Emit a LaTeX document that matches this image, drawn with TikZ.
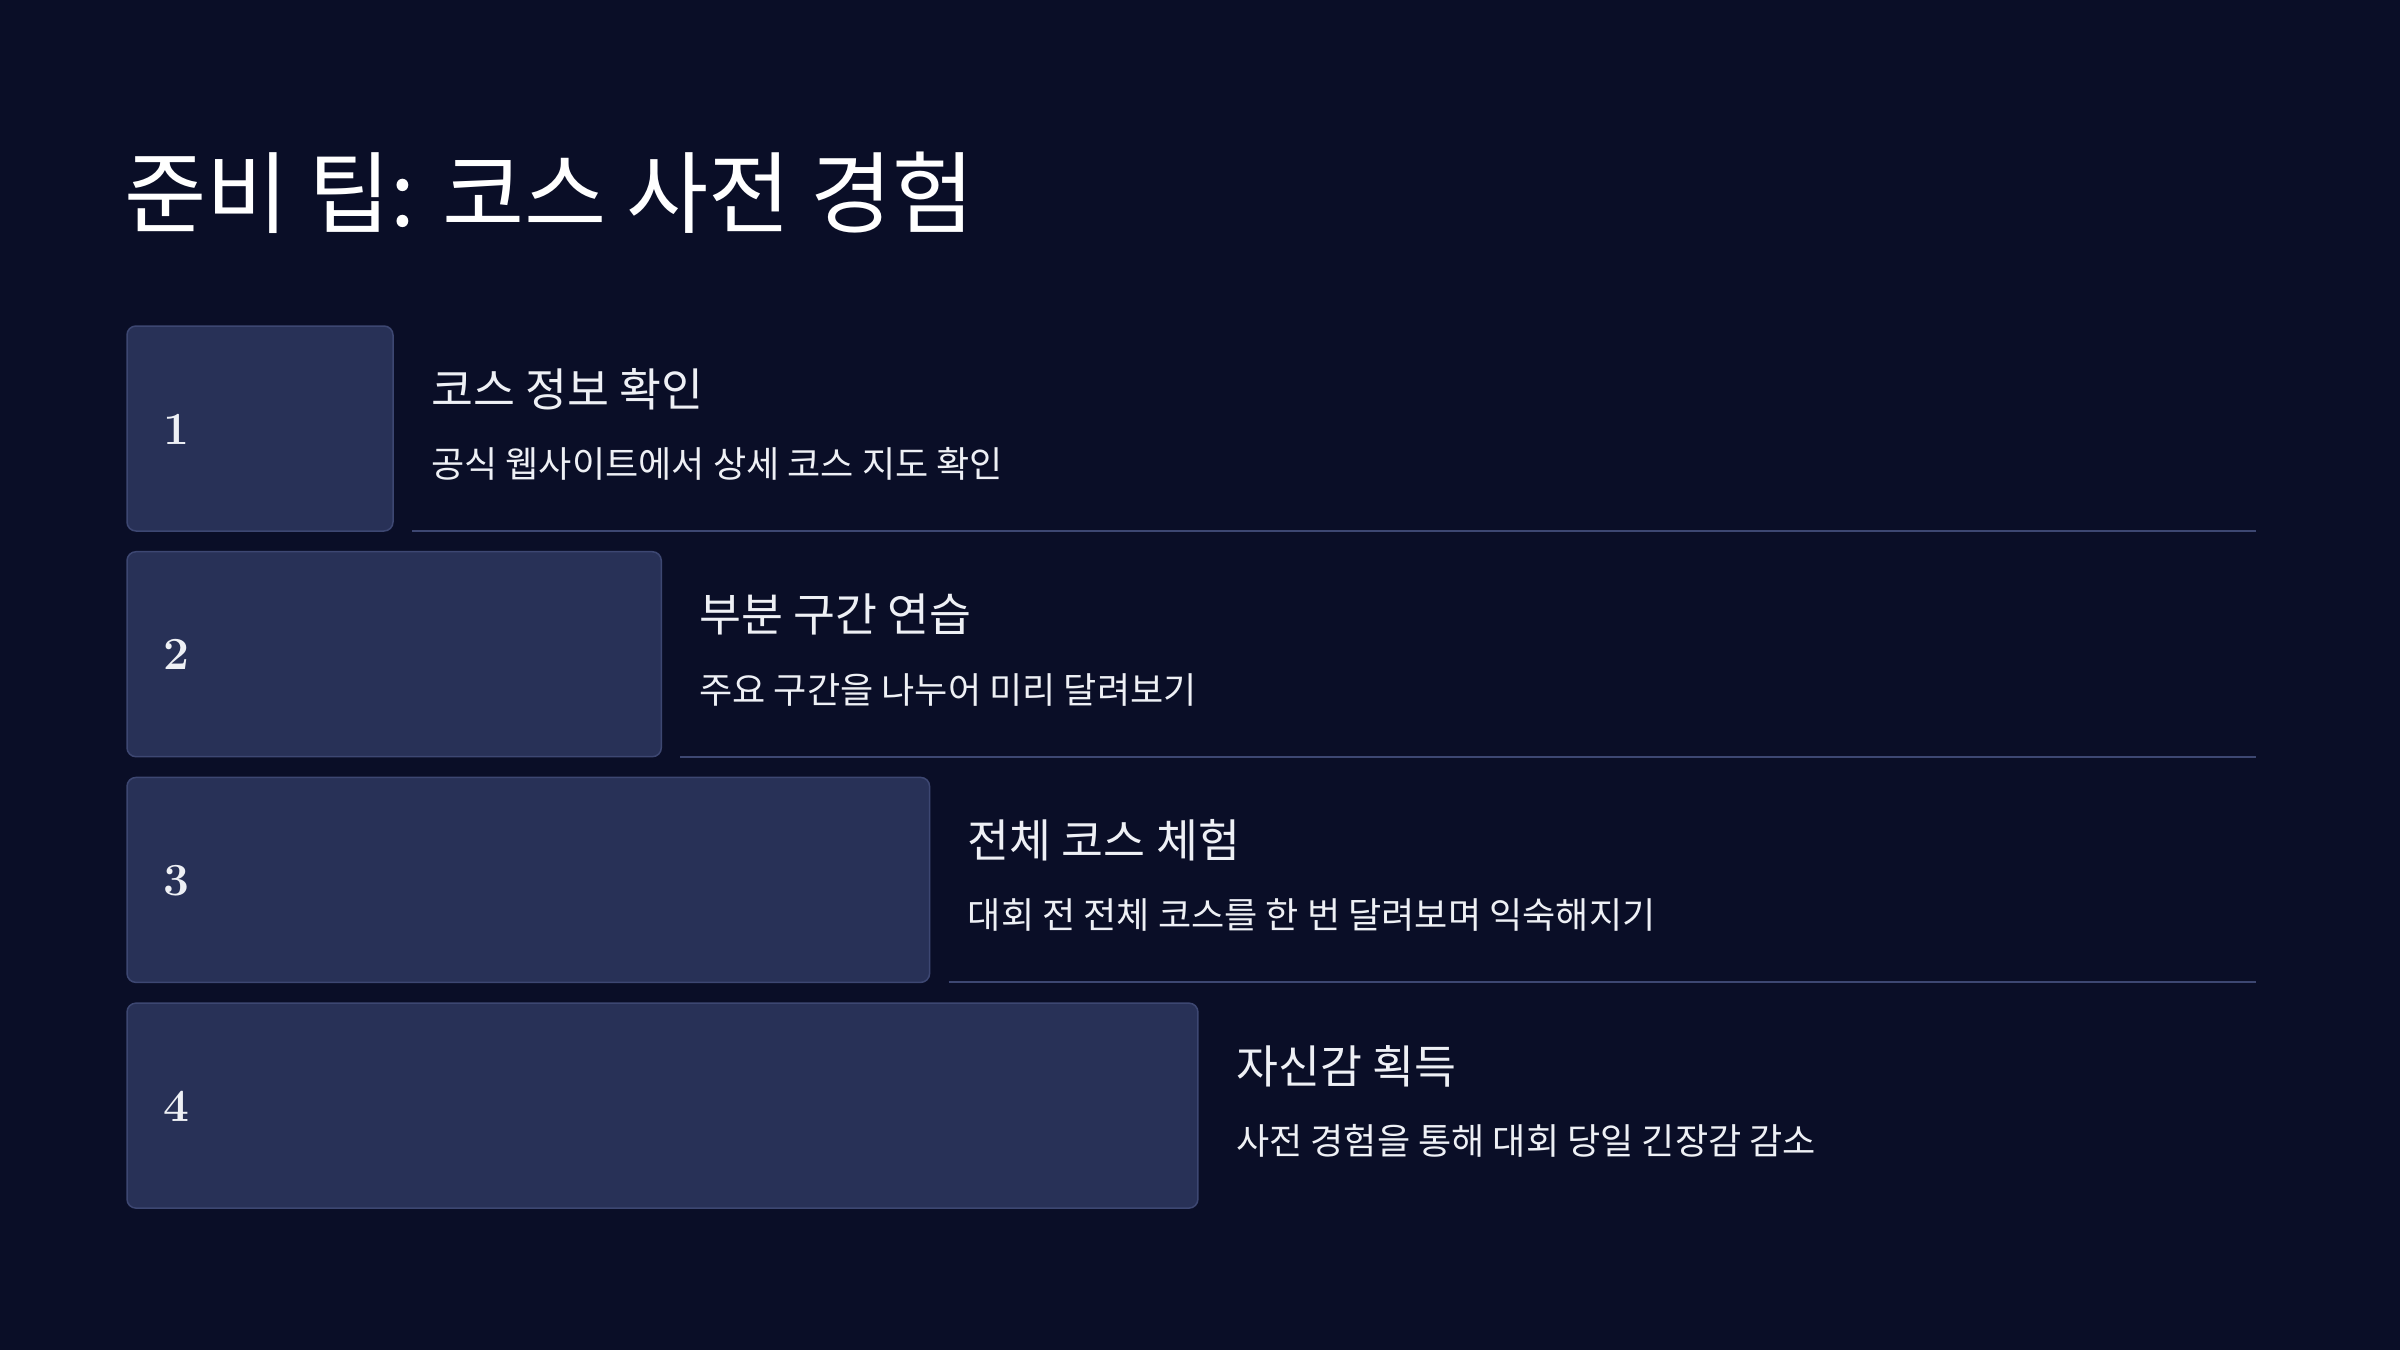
\documentclass[tikz,border=0pt]{standalone}
\usepackage{fontspec}
\newfontfamily\kr{Noto Sans CJK KR}[RawFeature={+palt}]
\definecolor{bg}{HTML}{0A0E27}
\definecolor{boxfill}{HTML}{283157}
\definecolor{boxline}{HTML}{3D4772}
\definecolor{txt}{HTML}{EEF0F5}
\tikzset{
  stepbox/.style={draw=boxline, line width=1.5pt, fill=boxfill, rounded corners=9pt},
  numtxt/.style={anchor=west, inner sep=0pt, text=txt, font=\fontsize{46}{50}\selectfont\rmfamily\bfseries},
  headtxt/.style={anchor=west, inner sep=0pt, text=txt, font=\kr\fontsize{45.6}{50}\selectfont},
  desctxt/.style={anchor=west, inner sep=0pt, text=txt, font=\kr\fontsize{36.1}{40}\selectfont},
  sepline/.style={draw=boxline, line width=2pt}
}
\begin{document}
\begin{tikzpicture}[x=1pt,y=-1pt]
\fill[bg] (0,0) rectangle (2400,1350);
\useasboundingbox (0,0) rectangle (2400,1350);
\node[anchor=west, inner sep=0pt, text=white, font=\kr\fontsize{89.3}{96}\selectfont] (title) at (124,193) {준비 팁: 코스 사전 경험};
\foreach \i/\head/\desc in {1/코스 정보 확인/공식 웹사이트에서 상세 코스 지도 확인,
  2/부분 구간 연습/주요 구간을 나누어 미리 달려보기,
  3/전체 코스 체험/대회 전 전체 코스를 한 번 달려보며 익숙해지기,
  4/자신감 획득/사전 경험을 통해 대회 당일 긴장감 감소}{
  \pgfmathsetmacro{\top}{326+225.7*(\i-1)}
  \pgfmathsetmacro{\bot}{\top+205}
  \pgfmathsetmacro{\rgt}{393+268.3*(\i-1)}
  \path[stepbox] (127,\top) rectangle (\rgt,\bot);
  \coordinate (b\i) at (\rgt,\bot);
  \node[numtxt] (n\i) at (163,\top+103) {\i};
  \node[headtxt] (h\i) at (\rgt+38,\top+63) {\head};
  \node[desctxt] (d\i) at (\rgt+38,\top+138) {\desc};
}
\foreach \i in {1,2,3}{
  \coordinate (ls\i) at ([xshift=19pt]b\i);
  \coordinate (le\i) at (2256,0 |- b\i);
  \draw[sepline] (ls\i) -- (le\i);
}
\end{tikzpicture}
\end{document}
